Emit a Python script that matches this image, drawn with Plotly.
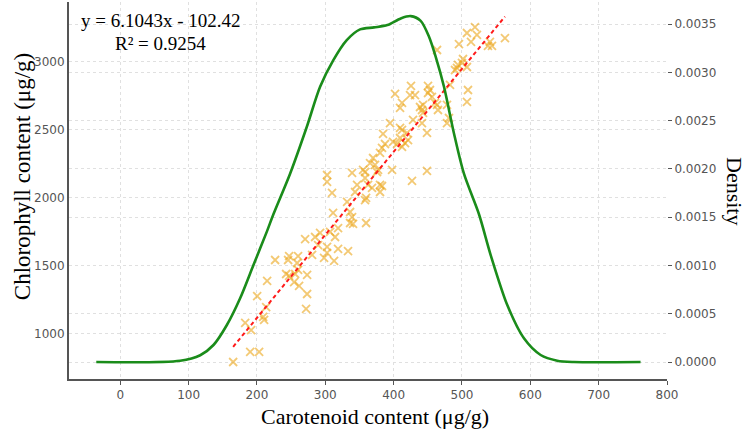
import plotly.graph_objects as go

# ---------------- data ----------------
carotenoid = [165.2, 190.1, 203.2, 182.8, 191.5, 209.1, 210.5, 200.3, 214.9, 213.5,
              226.6, 247.1, 245.6, 260.2, 242.7, 247.1, 255.9, 260.2, 254.4, 261.7,
              273.4, 273.4, 271.9, 280.7, 302.6, 298.2, 312.9, 258.8, 270.5, 285.1,
              289.5, 292.4, 302.6, 318.7, 333.3, 314.3, 318.7, 311.4, 309.9, 302.6,
              302.6, 331.9, 336.3, 339.2, 336.3, 359.7, 339.2, 346.5, 343.6, 359.7,
              362.6, 380.1, 380.1, 358.2, 358.2, 368.4, 355.3, 377.2, 397.7, 369.9,
              365.5, 372.8, 380.1, 387.4, 384.5, 394.7, 409.4, 421.1, 399.1, 405.0,
              412.3, 426.9, 448.8, 375.7, 383.0, 358.2, 383.0, 416.7, 409.4, 419.6,
              412.3, 448.8, 428.4, 441.5, 443.0, 438.6, 478.1, 481.0, 409.4, 412.3,
              402.1, 424.0, 431.3, 425.4, 450.3, 453.2, 450.3, 456.1, 460.5, 464.9,
              463.5, 443.0, 478.1, 508.8, 507.3, 482.5, 494.2, 492.7, 507.3, 500.0,
              489.8, 501.5, 495.6, 507.3, 519.0, 521.9, 513.2, 540.9, 543.9, 562.9,
              463.5, 441.5, 307.0, 340.6, 538.0]
chlorophyll = [794, 868, 868, 1081, 1029, 1125, 1103, 1279, 1390, 1198,
               1544, 1573, 1544, 1573, 1441, 1427, 1441, 1471, 1382, 1353,
               1434, 1294, 1184, 1581, 1596, 1559, 1537, 1522, 1698, 1713,
               1654, 1743, 1640, 1625, 1610, 1713, 1779, 1890, 2037, 2169,
               2118, 1971, 1897, 1860, 1816, 1816, 2184, 2096, 2044, 2000,
               2096, 2096, 2044, 2191, 1985, 2074, 2206, 2206, 2206, 2294,
               2257, 2243, 2331, 2397, 2471, 2551, 2515, 2426, 2412, 2397,
               2375, 2125, 2199, 2191, 2088, 2147, 2368, 2404, 2441, 2478,
               2500, 2478, 2574, 2551, 2625, 2669, 2551, 2588, 2662, 2699,
               2765, 2757, 2757, 2824, 2824, 2794, 2772, 2743, 2699, 2647,
               2684, 2684, 2684, 2794, 2706, 2831, 2978, 2956, 2963, 2993,
               2941, 3022, 3132, 3213, 3257, 3199, 3147, 3147, 3118, 3176,
               3088, 2647, 1750, 1809, 3118]

slope = 6.1043
intercept = -102.42
r_squared = 0.9254

density_x = [-35.1, 87.7, 117.0, 136.4, 156.0, 175.4, 194.9, 214.5, 224.1, 248.5,
             273.0, 292.4, 311.8, 331.4, 350.9, 371.3, 390.8, 410.4, 425.0, 439.6,
             451.8, 461.6, 473.7, 488.3, 502.9, 524.9, 542.0, 566.3, 590.7, 615.1,
             639.4, 663.7, 761.3]
density_y = [0.0, 0.000013, 0.00007, 0.000176, 0.000383, 0.00066, 0.001004, 0.00135,
             0.00153, 0.00195, 0.002436, 0.00285, 0.003126, 0.003333, 0.003444,
             0.003465, 0.003489, 0.003558, 0.003582, 0.003533, 0.003368, 0.00316,
             0.00285, 0.002367, 0.00195, 0.00153, 0.001108, 0.00059, 0.000245,
             0.0000725, 0.0000135, 0.0, 0.0]

x_ticks = [0, 100, 200, 300, 400, 500, 600, 700, 800]
y_ticks = [1000, 1500, 2000, 2500, 3000]
d_ticks = [0.0, 0.0005, 0.0010, 0.0015, 0.0020, 0.0025, 0.0030, 0.0035]

# ---------------- figure ----------------
fit_x = [min(carotenoid), max(carotenoid)]
fit_y = [slope * v + intercept for v in fit_x]

fig = go.Figure()
fig.add_trace(go.Scatter(
    x=carotenoid, y=chlorophyll, mode="markers",
    marker=dict(symbol="x-thin-open", size=8, color="rgba(236,168,30,0.62)",
                line=dict(width=1.8, color="rgba(236,168,30,0.62)")),
    showlegend=False, yaxis="y"))
fig.add_trace(go.Scatter(
    x=fit_x, y=fit_y, mode="lines",
    line=dict(color="#ff1a1a", width=2, dash="4px,3px"),
    showlegend=False, yaxis="y"))
fig.add_trace(go.Scatter(
    x=density_x, y=density_y, mode="lines",
    line=dict(color="#1a8c1a", width=2.6, shape="spline", smoothing=0.8),
    showlegend=False, yaxis="y2"))

tick_font = dict(family="DejaVu Sans", size=12, color="#555555")
serif = "Liberation Serif"
grid = dict(showgrid=True, gridcolor="#e0e0e0", gridwidth=1, griddash="dot")

fig.update_layout(
    width=748, height=431,
    margin=dict(l=69, r=81, t=2, b=52),
    paper_bgcolor="white", plot_bgcolor="white",
    xaxis=dict(range=[-75, 800], tickvals=x_ticks, ticks="outside", ticklen=4,
               tickcolor="#555555", showline=True, linecolor="#555555", linewidth=2,
               zeroline=False, tickfont=tick_font, **grid),
    yaxis=dict(range=[669, 3441], tickvals=y_ticks, ticks="", showline=True,
               linecolor="#555555", linewidth=2, zeroline=False,
               tickfont=tick_font, **grid),
    yaxis2=dict(range=[-0.000176, 0.003728], tickvals=d_ticks, tickformat=".4f",
                overlaying="y", side="right", ticks="outside", ticklen=4,
                tickcolor="#555555", showline=False, zeroline=False,
                tickfont=tick_font, **grid),
    annotations=[
        dict(text="y = 6.1043x - 102.42", x=0.1538, y=0.952, xref="paper", yref="paper",
             showarrow=False, font=dict(family=serif, size=19, color="black"),
             xanchor="center", yanchor="middle"),
        dict(text=f"R² = {r_squared}", x=0.1538, y=0.891, xref="paper", yref="paper",
             showarrow=False, font=dict(family=serif, size=19, color="black"),
             xanchor="center", yanchor="middle"),
        dict(text="Chlorophyll content (μg/g)", x=-0.0786, y=0.538, xref="paper",
             yref="paper", showarrow=False, textangle=-90,
             font=dict(family=serif, size=23, color="black"),
             xanchor="center", yanchor="middle"),
        dict(text="Carotenoid content (μg/g)", x=0.5117, y=-0.100, xref="paper",
             yref="paper", showarrow=False,
             font=dict(family=serif, size=22, color="black"),
             xanchor="center", yanchor="middle"),
        dict(text="Density", x=1.112, y=0.4987, xref="paper", yref="paper",
             showarrow=False, textangle=90,
             font=dict(family=serif, size=22, color="black"),
             xanchor="center", yanchor="middle"),
    ],
)

fig.write_html("out.html")
